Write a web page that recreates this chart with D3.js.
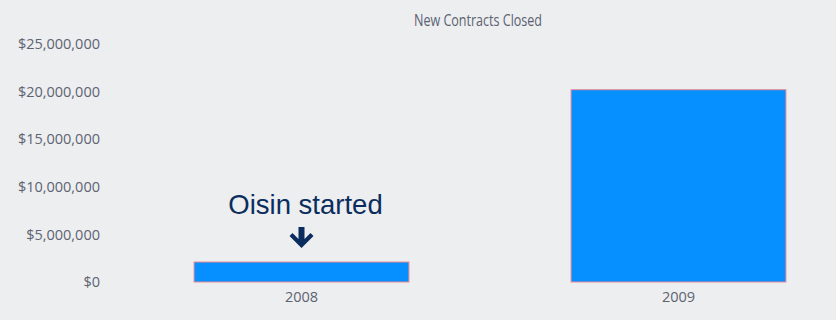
<!DOCTYPE html>
<html>
<head>
<meta charset="utf-8">
<script src="https://cdnjs.cloudflare.com/ajax/libs/d3/7.8.5/d3.min.js"></script>
<style>
  html, body { margin: 0; padding: 0; background: #edeef0; }
  svg { display: block; }
  .tick-label { font-family: "Open Sans", sans-serif; font-size: 14.5px; fill: #5d6470; }
</style>
</head>
<body>
<div id="chart"></div>
<script>
// chart data
var years = ["2008", "2009"];
var contracts = [2100000, 20200000];
var yTicks = [0, 5000000, 10000000, 15000000, 20000000, 25000000];
var chartTitle = "New Contracts Closed";
var noteText = "Oisin started";
var noteYear = "2008";

const W = 836, H = 320;
const margin = {top: 44, right: -31, bottom: 38, left: 113};
var width = W - margin.left - margin.right;
var height = H - margin.top - margin.bottom;

var svg = d3.select("#chart")
    .append("svg")
    .attr("width", W)
    .attr("height", H);

var g = svg.append("g")
    .attr("transform", "translate(" + margin.left + "," + margin.top + ")");

var xScale = d3.scaleBand()
    .domain(years)
    .range([0, width])
    .paddingInner(0.43)
    .paddingOuter(0.215);

var yScale = d3.scaleLinear()
    .domain([0, 25000000])
    .range([height, 0]);

var fmt = d3.format("$,");

// y axis labels, no lines
var yAxis = d3.axisLeft(yScale)
    .tickValues(yTicks)
    .tickFormat(fmt)
    .tickSize(0)
    .tickPadding(13);
g.append("g")
    .attr("class", "y-axis")
    .call(yAxis)
    .call(s => s.select(".domain").remove())
    .selectAll("text")
        .attr("class", "tick-label");

var xAxis = d3.axisBottom(xScale)
    .tickSize(0)
    .tickPadding(10);
g.append("g")
    .attr("class", "x-axis")
    .attr("transform", "translate(0," + height + ")")
    .call(xAxis)
    .call(s => s.select(".domain").remove())
    .selectAll("text")
        .attr("class", "tick-label");

// bars
g.selectAll("rect.bar")
    .data(years)
    .enter()
    .append("rect")
    .attr("class", "bar")
    .attr("x", d => xScale(d))
    .attr("width", xScale.bandwidth())
    .attr("y", (d, i) => yScale(contracts[i]))
    .attr("height", (d, i) => height - yScale(contracts[i]))
    .style("fill", "#068ffe")
    .style("stroke", "#ee8a92")
    .style("stroke-width", 1);

// title
svg.append("text")
    .attr("x", 478)
    .attr("y", 26)
    .attr("text-anchor", "middle")
    .attr("class", "tick-label")
    .attr("textLength", 128)
    .attr("lengthAdjust", "spacingAndGlyphs")
    .style("font-size", "16px")
    .style("fill", "#5a6270")
    .text(chartTitle);

// annotation
var cx = xScale(noteYear) + xScale.bandwidth() / 2 + margin.left;
var noteTop = yScale(contracts[years.indexOf(noteYear)]) + margin.top;
svg.append("text")
    .attr("x", cx + 4)
    .attr("y", noteTop - 48)
    .attr("text-anchor", "middle")
    .style("font-family", "'Liberation Sans', Arial, sans-serif")
    .style("font-size", "27.5px")
    .style("fill", "#0b2d5e")
    .text(noteText);

var ay = noteTop - 35;
svg.append("path")
    .attr("d", "M" + (cx - 3) + "," + ay + " h6 v12 l6,-6 l3,3 l-12,12 l-12,-12 l3,-3 l6,6 z")
    .style("fill", "#0b2d5e");
</script>
</body>
</html>
